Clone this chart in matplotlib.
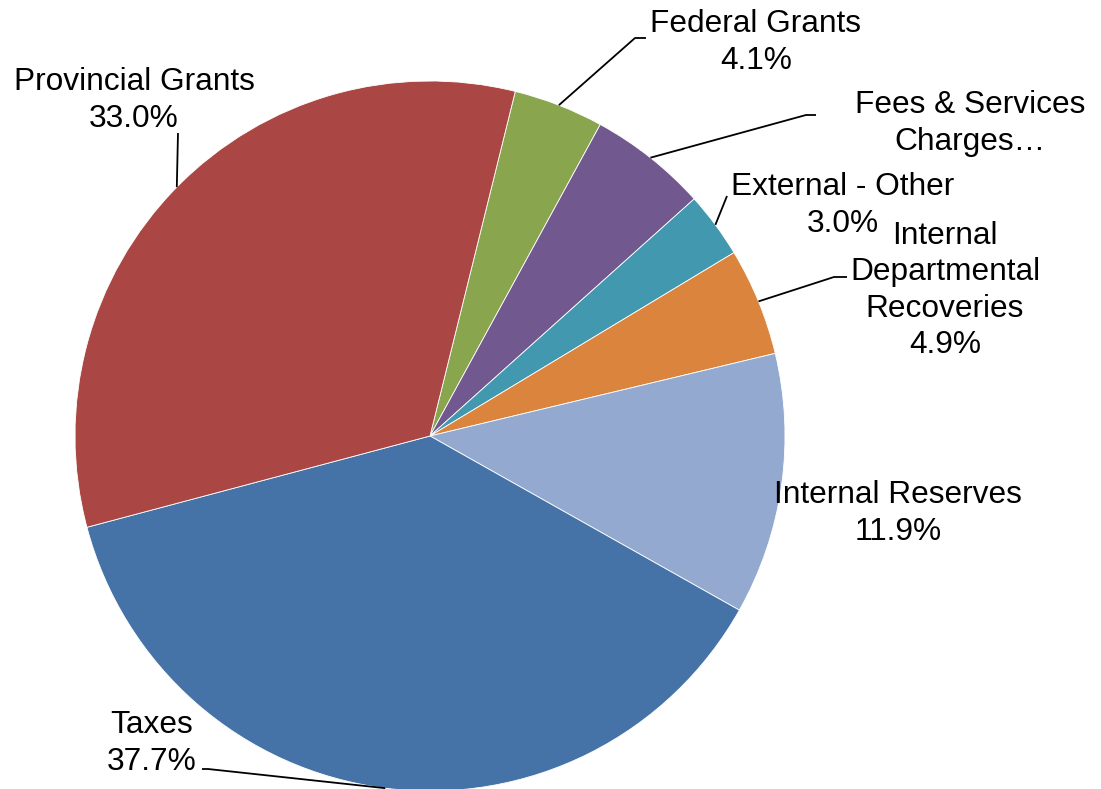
import numpy as np
import matplotlib.pyplot as plt

plt.rcParams['font.family'] = ['Liberation Sans', 'DejaVu Sans']

# revenue sources, clockwise from the Federal Grants slice
names = ["Federal Grants", "Fees & Services", "External - Other",
         "Internal\nDepartmental\nRecoveries", "Internal Reserves",
         "Taxes", "Provincial Grants"]
shares = [4.1, 5.4, 3.0, 4.9, 11.9, 37.7, 33.0]
colors = ["#89A54E", "#71588F", "#4198AF", "#DB843D",
          "#93A9CF", "#4572A7", "#AA4643"]

W, H = 1101, 789
CX, CY, R = 430, 436, 355   # pie centre / radius in pixels (y from top)
LINE_H = 36.5               # label line pitch in pixels

# label placement (x, y from top of the block centre) and leader line bends
label_pos = [(756, 39), (970, 120), (843, 202), (945, 287),
             (898, 510), (152, 740), (134, 97)]
leader_pts = [[(635, 38), (646, 38)],
              [(806, 115), (816, 115)],
              [(727, 196)],
              [(834, 277), (847, 277)],
              [],
              [(208, 769), (202, 769)],
              [(178, 133)]]

fig = plt.figure(figsize=(W / 100, H / 100), dpi=100)
ax = fig.add_axes([0, 0, 1, 1])

wedges, _ = ax.pie(shares, colors=colors, startangle=90 - 13.9,
                   counterclock=False, center=(CX, H - CY), radius=R,
                   wedgeprops=dict(edgecolor="white", linewidth=0.6))

for i, w in enumerate(wedges):
    # label text, one line at a time
    if names[i] == "Fees & Services":
        lines = ["Fees & Services", "Charges…"]
    else:
        lines = names[i].split("\n") + [f"{shares[i]:.1f}%"]
    lx, ly = label_pos[i]
    top = ly - LINE_H * (len(lines) - 1) / 2
    for k, line in enumerate(lines):
        ax.text(lx, H - (top + k * LINE_H), line, ha="center",
                va="center_baseline", fontsize=22.8, color="black")

    # leader line from the slice middle on the rim
    if leader_pts[i]:
        mid = np.deg2rad((w.theta1 + w.theta2) / 2)
        xs = [CX + R * np.cos(mid)] + [p[0] for p in leader_pts[i]]
        ys = [H - CY + R * np.sin(mid)] + [H - p[1] for p in leader_pts[i]]
        ax.plot(xs, ys, color="black", lw=1.3, solid_capstyle="butt")

ax.set_xlim(0, W)
ax.set_ylim(0, H)
ax.set_aspect("equal")
ax.axis("off")

fig.savefig("out.png", dpi=100, facecolor="white")
